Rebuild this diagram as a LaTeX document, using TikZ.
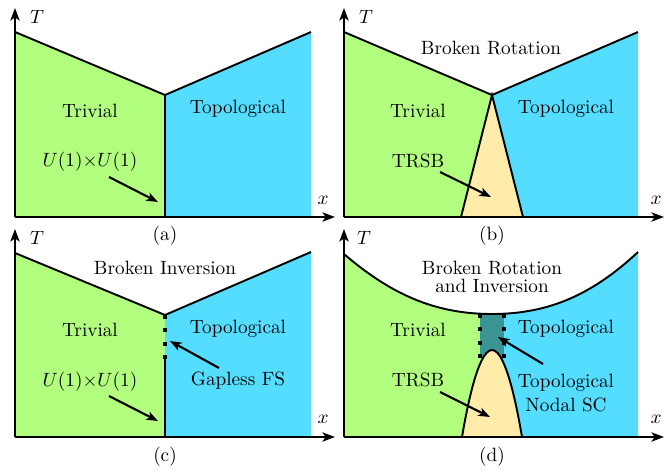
\documentclass[tikz,border=0pt]{standalone}
\usetikzlibrary{arrows.meta}
\definecolor{trivgreen}{RGB}{178,255,128}
\definecolor{topblue}{RGB}{85,221,255}
\definecolor{trsbyellow}{RGB}{255,235,170}
\definecolor{nodalteal}{RGB}{58,148,148}
\begin{document}
\begin{tikzpicture}[x=0.52pt,y=-0.52pt,
  bd/.style={line width=1pt, line join=miter},
  ax/.style={line width=1.1pt,-{Stealth[length=6.5pt,width=4.8pt,inset=1.6pt]}},
  pt/.style={line width=1.1pt,-{Stealth[length=6pt,width=4.5pt,inset=1.5pt]}},
  lbl/.style={inner sep=0pt, align=center},
  dotsq/.style={fill=black}]
\useasboundingbox (0,0) rectangle (670,474);

% ---------------- panel (a)
\fill[trivgreen] (15,217) -- (15,32) -- (165,95) -- (165,217) -- cycle;
\fill[topblue] (165,217) -- (165,95) -- (311,32) -- (311,217) -- cycle;
\draw[bd] (15,32) -- (165,95) -- (311,32);
\draw[bd] (165,95) -- (165,217);
\coordinate (aO) at (15,217);
\coordinate (aY) at (15,8);
\coordinate (aX) at (335,217);
\draw[ax] (aO) -- (aY);
\draw[ax] (aO) -- (aX);
\node[lbl] (aT) at (37,17) {$T$};
\node[lbl] (ax) at (323,200) {$x$};
\node[lbl] (atriv) at (90,111) {Trivial};
\node[lbl] (atop) at (238,109) {Topological};
\node[lbl] (au) at (90,162) {$U(1){\times}U(1)$};
\coordinate (aus) at (109,177);
\coordinate (aue) at (158,202);
\draw[pt] (aus) -- (aue);
\node[lbl] (acap) at (165,236) {(a)};

% ---------------- panel (b)
\fill[trivgreen] (344,217) -- (344,32) -- (492,95) -- (461,217) -- cycle;
\fill[topblue] (523,217) -- (492,95) -- (638,32) -- (638,217) -- cycle;
\fill[trsbyellow] (461,217) -- (492,95) -- (523,217) -- cycle;
\draw[bd] (344,32) -- (492,95) -- (638,32);
\draw[bd] (461,217) -- (492,95) -- (523,217);
\coordinate (bO) at (344,217);
\coordinate (bY) at (344,8);
\coordinate (bX) at (664,217);
\draw[ax] (bO) -- (bY);
\draw[ax] (bO) -- (bX);
\node[lbl] (bT) at (366,17) {$T$};
\node[lbl] (bx) at (656,200) {$x$};
\node[lbl] (bbr) at (491,48) {Broken Rotation};
\node[lbl] (btriv) at (418,111) {Trivial};
\node[lbl] (btop) at (566,109) {Topological};
\node[lbl] (btrsb) at (418,161) {TRSB};
\coordinate (bts) at (440,172);
\coordinate (bte) at (491,197);
\draw[pt] (bts) -- (bte);
\node[lbl] (bcap) at (492,236) {(b)};

% ---------------- panel (c)
\fill[trivgreen] (15,437) -- (15,253) -- (165,315) -- (165,437) -- cycle;
\fill[topblue] (165,437) -- (165,315) -- (311,252) -- (311,437) -- cycle;
\draw[bd] (15,253) -- (165,315) -- (311,252);
\draw[bd] (165,357) -- (165,437);
\foreach \yy in {317,330,344,357} \fill[dotsq] (163,{\yy-2}) rectangle (167,{\yy+2});
\coordinate (cO) at (15,437);
\coordinate (cY) at (15,229);
\coordinate (cX) at (335,437);
\draw[ax] (cO) -- (cY);
\draw[ax] (cO) -- (cX);
\node[lbl] (cT) at (37,238) {$T$};
\node[lbl] (cx) at (323,419) {$x$};
\node[lbl] (cbi) at (165,268) {Broken Inversion};
\node[lbl] (ctriv) at (90,330) {Trivial};
\node[lbl] (ctop) at (238,329) {Topological};
\node[lbl] (cu) at (90,382) {$U(1){\times}U(1)$};
\coordinate (cus) at (109,396);
\coordinate (cue) at (158,421);
\draw[pt] (cus) -- (cue);
\node[lbl] (cgfs) at (238,381) {Gapless FS};
\coordinate (cgs) at (219,368);
\coordinate (cge) at (170,341);
\draw[pt] (cgs) -- (cge);
\node[lbl] (ccap) at (165,457) {(c)};

% ---------------- panel (d)
\fill[trivgreen] (344,437) -- (344,254) .. controls (395,298) and (440,314) .. (492,314) -- (492,437) -- cycle;
\fill[topblue] (492,437) -- (492,314) .. controls (544,314) and (589,298) .. (638,252) -- (638,437) -- cycle;
\fill[nodalteal] (480,314) rectangle (504,357);
\fill[trsbyellow] (462,437) parabola bend (492,350) (522,437) -- cycle;
\draw[bd] (344,254) .. controls (395,298) and (440,314) .. (492,314) .. controls (544,314) and (589,298) .. (638,252);
\draw[bd] (462,437) parabola bend (492,350) (522,437);
\foreach \xx in {480,504} {
  \foreach \yy in {316,329,343,356} \fill[dotsq] ({\xx-2},{\yy-2}) rectangle ({\xx+2},{\yy+2});
}
\coordinate (dO) at (344,437);
\coordinate (dY) at (344,229);
\coordinate (dX) at (664,437);
\draw[ax] (dO) -- (dY);
\draw[ax] (dO) -- (dX);
\node[lbl] (dT) at (364,238) {$T$};
\node[lbl] (dx) at (656,419) {$x$};
\node[lbl] (dbr) at (492,277) {Broken Rotation\\[-2.5pt]and Inversion};
\node[lbl] (dtriv) at (418,330) {Trivial};
\node[lbl] (dtop) at (566,329) {Topological};
\node[lbl] (dtns) at (566,393) {Topological\\Nodal SC};
\node[lbl] (dtrsb) at (418,380) {TRSB};
\coordinate (dts) at (440,392);
\coordinate (dte) at (490,417);
\draw[pt] (dts) -- (dte);
\coordinate (dns) at (543,364);
\coordinate (dne) at (498,337);
\draw[pt] (dns) -- (dne);
\node[lbl] (dcap) at (492,457) {(d)};
\end{tikzpicture}
\end{document}
